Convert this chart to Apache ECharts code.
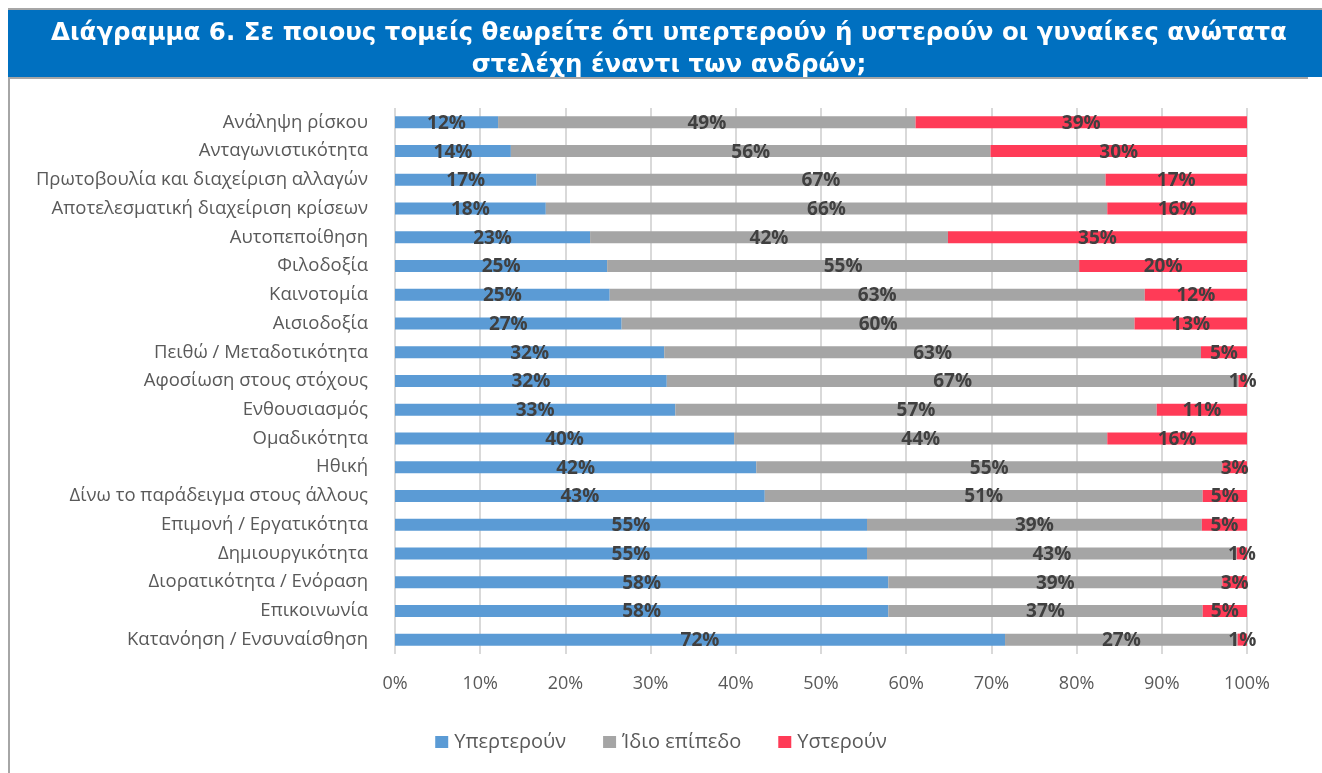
<!DOCTYPE html>
<html>
<head>
<meta charset="utf-8">
<script src="https://cdn.jsdelivr.net/npm/echarts@6/dist/echarts.min.js"></script>
<style>
  html, body { margin: 0; padding: 0; background: #fff; }
  #chart { width: 1322px; height: 773px; }
</style>
</head>
<body>
<div id="chart"></div>
<script>
// κατηγορίες, από πάνω προς τα κάτω
const categories = [
  'Ανάληψη ρίσκου', 'Ανταγωνιστικότητα', 'Πρωτοβουλία και διαχείριση αλλαγών',
  'Αποτελεσματική διαχείριση κρίσεων', 'Αυτοπεποίθηση', 'Φιλοδοξία', 'Καινοτομία',
  'Αισιοδοξία', 'Πειθώ / Μεταδοτικότητα', 'Αφοσίωση στους στόχους', 'Ενθουσιασμός',
  'Ομαδικότητα', 'Ηθική', 'Δίνω το παράδειγμα στους άλλους', 'Επιμονή / Εργατικότητα',
  'Δημιουργικότητα', 'Διορατικότητα / Ενόραση', 'Επικοινωνία', 'Κατανόηση / Ενσυναίσθηση'
];
const better = [12.1, 13.6, 16.6, 17.7, 22.9, 24.9, 25.2, 26.6, 31.6, 31.9, 32.9, 39.8, 42.4, 43.4, 55.4, 55.4, 57.9, 57.9, 71.6];
const same   = [49.0, 56.3, 66.8, 65.9, 42.0, 55.4, 62.8, 60.2, 63.0, 67.1, 56.5, 43.8, 54.7, 51.4, 39.3, 43.4, 39.2, 36.9, 27.3];
const worse  = [38.9, 30.1, 16.6, 16.4, 35.1, 19.7, 12.0, 13.2, 5.4, 1.0, 10.6, 16.4, 2.9, 5.2, 5.3, 1.2, 2.9, 5.2, 1.1];
const seriesNames = ['Υπερτερούν', 'Ίδιο επίπεδο', 'Υστερούν'];
const colors = ['#5B9BD5', '#A5A5A5', '#FF3B57'];
const xTicks = [0, 10, 20, 30, 40, 50, 60, 70, 80, 90, 100];

const chart = echarts.init(document.getElementById('chart'));

const label = {
  show: true,
  position: 'inside',
  offset: [0, 1],
  color: '#404040',
  fontFamily: 'Open Sans',
  fontWeight: 'bold',
  fontSize: 19,
  formatter: p => Math.round(p.value) + '%'
};

const options = {
  animation: false,
  title: {
    text: 'Διάγραμμα 6. Σε ποιους τομείς θεωρείτε ότι υπερτερούν ή υστερούν οι γυναίκες ανώτατα\nστελέχη έναντι των ανδρών;',
    left: 664,
    top: 13,
    textAlign: 'center',
    textStyle: {
      color: '#fff',
      fontFamily: 'DejaVu Sans',
      fontWeight: 'bold',
      fontSize: 24.5,
      lineHeight: 32
    }
  },
  graphic: [
    { type: 'rect', shape: { x: 8, y: 10, width: 1314, height: 67 }, style: { fill: '#0070C0' }, z: -1 },
    { type: 'line', shape: { x1: 8, y1: 9, x2: 1322, y2: 9 }, style: { stroke: '#A6A6A6', lineWidth: 2 } },
    { type: 'line', shape: { x1: 9, y1: 77, x2: 9, y2: 773 }, style: { stroke: '#A6A6A6', lineWidth: 2 } },
    { type: 'line', shape: { x1: 8, y1: 78, x2: 1308, y2: 78 }, style: { stroke: '#A6A6A6', lineWidth: 2 } }
  ],
  legend: {
    data: seriesNames,
    top: 727,
    left: 'center',
    itemWidth: 13,
    itemHeight: 12,
    itemGap: 37,
    icon: 'rect',
    textStyle: { color: '#595959', fontFamily: 'Open Sans', fontSize: 20, padding: [0, 0, 0, 1] }
  },
  grid: {
    left: 395,
    right: 75,
    top: 108,
    bottom: 119
  },
  xAxis: {
    type: 'value',
    min: xTicks[0],
    max: xTicks[xTicks.length - 1],
    interval: 10,
    axisLine: { show: false },
    axisTick: { show: false },
    splitLine: { lineStyle: { color: '#D9D9D9', width: 2 } },
    axisLabel: {
      color: '#595959',
      fontFamily: 'Open Sans',
      fontSize: 18,
      margin: 21,
      formatter: '{value}%'
    }
  },
  yAxis: {
    type: 'category',
    inverse: true,
    data: categories,
    axisLine: { show: false },
    axisTick: { show: false },
    axisLabel: {
      color: '#595959',
      fontFamily: 'Open Sans',
      fontSize: 18.5,
      margin: 27
    }
  },
  series: [better, same, worse].map((d, i) => ({
    name: seriesNames[i],
    type: 'bar',
    stack: 'total',
    barWidth: 12,
    itemStyle: { color: colors[i] },
    label: label,
    data: d
  }))
};

chart.setOption(options);
</script>
</body>
</html>
